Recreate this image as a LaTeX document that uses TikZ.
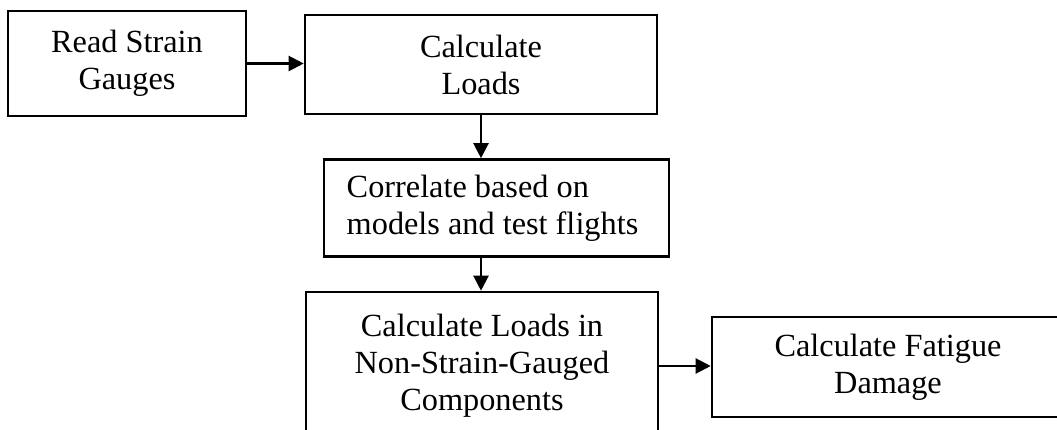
\documentclass[tikz,border=0pt]{standalone}
\usepackage{fontspec}
\setmainfont{Liberation Serif}
\usetikzlibrary{arrows.meta}
\begin{document}
\begin{tikzpicture}[x=1pt, y=-1pt,
  every node/.style={font=\fontsize{32.3}{37}\selectfont},
  stepbox/.style={draw=black, line width=2.6pt, rectangle, inner sep=0pt, align=center},
  flow/.style={line width=2.2pt, -{Triangle[length=15pt,width=15pt]}}]
  \useasboundingbox (0,0) rectangle (1057,429);
  \clip (0,0) rectangle (1057,429);
  \fill[white] (0,0) rectangle (1057,429);

  % process boxes
  \node[stepbox, minimum width=238, minimum height=105] (read) at (127,63.5)
    {Read Strain\\Gauges};
  \node[stepbox, minimum width=352, minimum height=99] (loads) at (481,64.5)
    {Calculate\\Loads};
  \node[stepbox, align=left, minimum width=345, minimum height=97] (corr) at (496.5,208)
    {\hspace*{-8pt}Correlate based on\\\hspace*{-8pt}models and test flights};
  \node[stepbox, minimum width=352, minimum height=148] (nsg) at (482,366)
    {Calculate Loads in\\Non-Strain-Gauged\\Components};
  \node[stepbox, minimum width=352, minimum height=100] (fat) at (888,367)
    {Calculate Fatigue\\Damage};

  % connectors
  \draw[flow] (read.east) -- (read.east -| loads.west);
  \draw[flow] (loads.south) -- (loads.south |- corr.north);
  \draw[flow] (loads.south |- corr.south) -- (loads.south |- nsg.north);
  \draw[flow] (nsg.east) -- (nsg.east -| fat.west);
\end{tikzpicture}
\end{document}
